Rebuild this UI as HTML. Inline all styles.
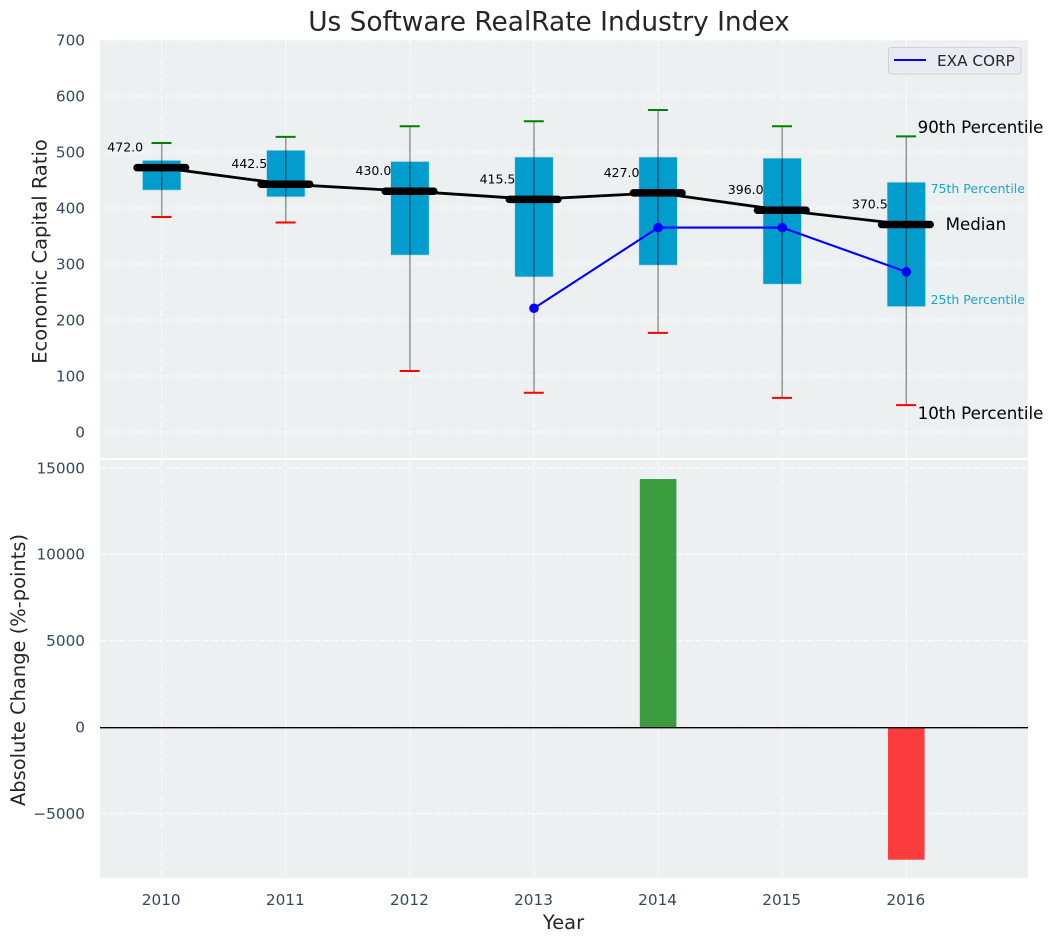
<!DOCTYPE html>
<html>
<head>
<meta charset="utf-8">
<title>Us Software RealRate Industry Index</title>
<style>
html,body{margin:0;padding:0;background:#fff;}
svg{display:block;font-family:"DejaVu Sans","Liberation Sans",sans-serif;}
</style>
</head>
<body>
<svg id="chart" width="1053" height="942" viewBox="0 0 1053 942" xmlns="http://www.w3.org/2000/svg"></svg>
<script>
var years = [2010, 2011, 2012, 2013, 2014, 2015, 2016];
var medians = [472.0, 442.5, 430.0, 415.5, 427.0, 396.0, 370.5];
var p75 = [485, 503, 483, 491, 491, 489, 446];
var p25 = [432, 420, 316, 277, 298, 264, 224];
var p90 = [516, 527, 546, 555, 575, 546, 528];
var p10 = [384, 374, 109, 70, 177, 61, 48];
var companyYears = [2013, 2014, 2015, 2016];
var companyValues = [221, 365, 365, 286];
var changeYears = [2014, 2016];
var changeValues = [14350, -7680];
var topTicks = [0, 100, 200, 300, 400, 500, 600, 700];
var bottomTicks = [-5000, 0, 5000, 10000, 15000];

var svg = document.getElementById('chart');
var NS = 'http://www.w3.org/2000/svg';
function xPos(v){ return 161.7 + (v - 2010) * 124.1; }
function yTop(v){ return 432 - v * 0.56; }
function yBottom(v){ return 727 - v * 0.01728; }
function mk(tag, attrs, parent){
  var el = document.createElementNS(NS, tag);
  for (var k in attrs) el.setAttribute(k, attrs[k]);
  (parent || svg).appendChild(el);
  return el;
}
function txt(s, attrs){
  var el = mk('text', attrs);
  el.textContent = s;
  return el;
}
var L = 100, R = 1028, T1 = 40, B1 = 458, T2 = 460, B2 = 878;
var gridStyle = {stroke:'#ffffff', 'stroke-width':1, 'stroke-opacity':0.9, 'stroke-dasharray':'6.5 2.8', fill:'none'};

/* backgrounds */
var bg1 = mk('rect', {x:L, y:T1, width:R-L, height:B1-T1, fill:'#ecf0f1'});


var bg2 = mk('rect', {x:L, y:T2, width:R-L, height:B2-T2, fill:'#ecf0f1'});



/* grid */
years.forEach(function(y){
  [[T1,B1],[T2,B2]].forEach(function(r, idx){
    var g = mk('line', Object.assign({x1:xPos(y), x2:xPos(y), y1:r[0], y2:r[1]}, gridStyle));
    
    
  });
});
topTicks.forEach(function(t){
  var g = mk('line', Object.assign({x1:L, x2:R, y1:yTop(t), y2:yTop(t)}, gridStyle));
  
  
  var lb = txt(String(t), {x:85, y:yTop(t)+5.5, 'text-anchor':'end', 'font-size':15.28, fill:'#34495e'});
  
  
});
bottomTicks.forEach(function(t){
  var g = mk('line', Object.assign({x1:L, x2:R, y1:yBottom(t), y2:yBottom(t)}, gridStyle));
  
  
  var lb = txt(String(t).replace('-', '\u2212'), {x:85, y:yBottom(t)+5.5, 'text-anchor':'end', 'font-size':15.28, fill:'#34495e'});
  
  
});
years.forEach(function(y){
  var lb = txt(String(y), {x:xPos(y)-0.5, y:905, 'text-anchor':'middle', 'font-size':15.28, fill:'#34495e'});
  
  
});

/* boxes */
years.forEach(function(y, i){
  var bx = mk('rect', {x:xPos(y)-19.2, y:yTop(p75[i]), width:38.4, height:yTop(p25[i])-yTop(p75[i]), fill:'#029ccd', stroke:'#b5dcea', 'stroke-width':0.6});
  
  
});
/* median connecting line */
var medLine = mk('polyline', {points:years.map(function(y,i){return xPos(y)+','+yTop(medians[i]);}).join(' '), fill:'none', stroke:'#000', 'stroke-width':2.8});


/* whiskers */
years.forEach(function(y, i){
  var w = mk('line', {x1:xPos(y), x2:xPos(y), y1:yTop(p90[i]), y2:yTop(p10[i]), stroke:'#000', 'stroke-opacity':0.42, 'stroke-width':1.4});
  
  
  var hi = mk('line', {x1:xPos(y)-10.2, x2:xPos(y)+9.8, y1:yTop(p90[i]), y2:yTop(p90[i]), stroke:'#008000', 'stroke-width':2});
  
  
  var lo = mk('line', {x1:xPos(y)-10.2, x2:xPos(y)+9.8, y1:yTop(p10[i]), y2:yTop(p10[i]), stroke:'#ff0000', 'stroke-width':2});
  
  
  var m = mk('line', {x1:xPos(y)-24.7, x2:xPos(y)+23.9, y1:yTop(medians[i]), y2:yTop(medians[i]), stroke:'#000', 'stroke-width':7.5, 'stroke-linecap':'round'});
  
  
  var lab = txt(medians[i].toFixed(1), {x:xPos(y)-18.6, y:yTop(medians[i])-16, 'text-anchor':'end', 'font-size':12.5, fill:'#000'});
  
  
});
/* company series */
var co = mk('polyline', {points:companyYears.map(function(y,i){return xPos(y)+','+yTop(companyValues[i]);}).join(' '), fill:'none', stroke:'#0000ff', 'stroke-width':2.1});


companyYears.forEach(function(y,i){
  var c = mk('circle', {cx:xPos(y), cy:yTop(companyValues[i]), r:4.8, fill:'#0000ff'});
  
  
});

/* annotations on the last year */
var last = years.length - 1;
var lx = xPos(years[last]);
var a90 = txt('90th Percentile', {x:lx+11.3, y:yTop(p90[last])-3.5, 'font-size':16.67, fill:'#000'});


var a10 = txt('10th Percentile', {x:lx+11.3, y:yTop(p10[last])+14, 'font-size':16.67, fill:'#000'});


var a75 = txt('75th Percentile', {x:lx+24.3, y:yTop(p75[last])+11, 'font-size':12.5, fill:'#029ccd', 'fill-opacity':0.9});


var a25 = txt('25th Percentile', {x:lx+24.3, y:yTop(p25[last])-2.6, 'font-size':12.5, fill:'#029ccd', 'fill-opacity':0.9});


var aM = txt('Median', {x:lx+39.3, y:yTop(medians[last])+5.5, 'font-size':16.67, fill:'#000'});



/* legend */
var lg = mk('rect', {x:888.5, y:47.5, width:132.5, height:26.5, rx:3, ry:3, fill:'#eaeaf2', stroke:'#d0d0d6', 'stroke-width':1});


var lgl = mk('line', {x1:894, x2:926, y1:60, y2:60, stroke:'#0000ff', 'stroke-width':2.1});


var lgt = txt('EXA CORP', {x:937, y:66, 'font-size':15.28, fill:'#262626'});



/* bottom bars */
changeYears.forEach(function(y,i){
  var v = changeValues[i];
  var top = Math.min(yBottom(v), yBottom(0));
  var b = mk('rect', {x:xPos(y)-18.3, y:top, width:36.6, height:Math.abs(yBottom(v)-yBottom(0)), fill:v>=0?'#008000':'#ff0000', 'fill-opacity':0.75});
  
  
});
var z = mk('line', {x1:L, x2:R, y1:yBottom(0)+0.7, y2:yBottom(0)+0.7, stroke:'#000', 'stroke-width':1.4});



/* titles */
var t = txt('Us Software RealRate Industry Index', {x:549, y:30.5, 'text-anchor':'middle', 'font-size':26.4, fill:'#262626'});


var yl1 = txt('Economic Capital Ratio', {x:0, y:0, 'text-anchor':'middle', 'font-size':19.44, fill:'#262626', transform:'translate(46.5 251.5) rotate(-90)'});


var yl2 = txt('Absolute Change (%-points)', {x:0, y:0, 'text-anchor':'middle', 'font-size':19.44, fill:'#262626', transform:'translate(25 670) rotate(-90)'});


var xl = txt('Year', {x:563.5, y:929, 'text-anchor':'middle', 'font-size':19.44, fill:'#262626'});


</script>
</body>
</html>
